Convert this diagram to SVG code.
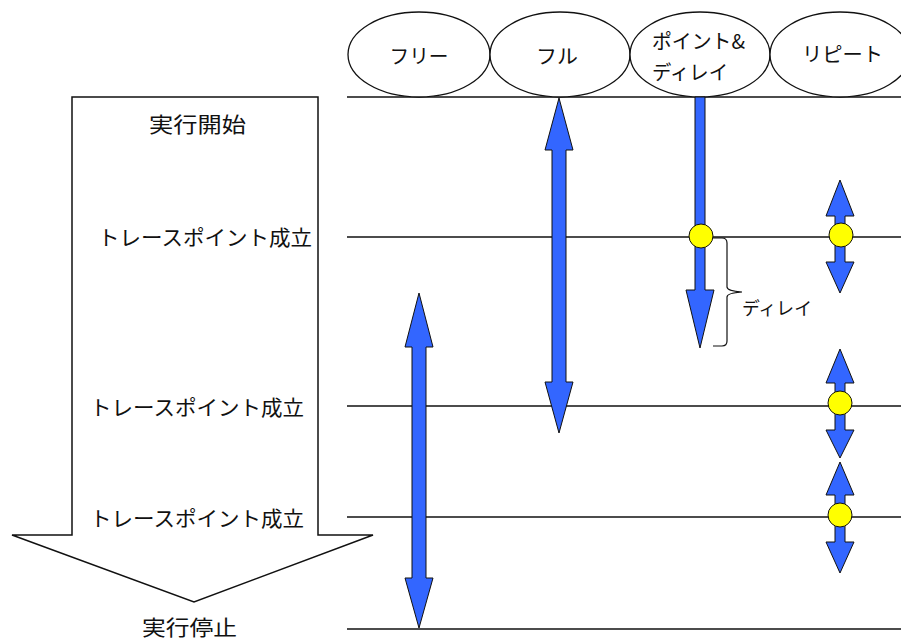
<svg xmlns="http://www.w3.org/2000/svg" width="901" height="639" viewBox="0 0 901 639">
<style>
  text { font-family: "Noto Sans CJK JP", "Noto Sans", sans-serif; fill: #111; dominant-baseline: central; }
  .lbl { font-size: 21px; }
  .mode { font-size: 20px; }
  .small { font-size: 18px; }
  .ell { fill: #fff; stroke: #111; stroke-width: 1.3; }
  .hline { stroke: #111; stroke-width: 1.5; fill: none; }
  .blue { fill: #3366FF; stroke: #111; stroke-width: 1; stroke-linejoin: miter; }
  .pt { fill: #FFFF00; stroke: #111; stroke-width: 1; }
  .brace { fill: none; stroke: #111; stroke-width: 1.2; }
</style>
<rect width="901" height="639" fill="#fff"/>

<g id="flow-arrow">
  <polygon points="72,97 318,97 318,535 373,535 194,602 12,535 72,535" fill="#fff" stroke="#111" stroke-width="1.5"/>
</g>

<g id="connectors">
  <line class="hline" x1="347" y1="97" x2="901" y2="97"/>
  <line class="hline" x1="347" y1="237" x2="901" y2="237"/>
  <line class="hline" x1="347" y1="406" x2="901" y2="406"/>
  <line class="hline" x1="347" y1="517" x2="901" y2="517"/>
  <line class="hline" x1="347" y1="629" x2="901" y2="629"/>
</g>

<g id="mode-free">
  <ellipse class="ell" cx="419" cy="54.5" rx="71" ry="42.5"/>
  <text class="mode" x="419" y="55" text-anchor="middle" textLength="59" lengthAdjust="spacingAndGlyphs">フリー</text>
</g>
<g id="mode-full">
  <ellipse class="ell" cx="560" cy="54.5" rx="70" ry="42.5"/>
  <text class="mode" x="557" y="55" text-anchor="middle" textLength="42" lengthAdjust="spacingAndGlyphs">フル</text>
</g>
<g id="mode-point-delay">
  <ellipse class="ell" cx="700" cy="54.5" rx="70" ry="42.5"/>
  <text class="mode" x="652" y="40" textLength="93" lengthAdjust="spacingAndGlyphs">ポイント&amp;</text>
  <text class="mode" x="652" y="71" textLength="76" lengthAdjust="spacingAndGlyphs">ディレイ</text>
</g>
<g id="mode-repeat">
  <ellipse class="ell" cx="840" cy="54.5" rx="70" ry="42.5"/>
  <text class="mode" x="802" y="53" textLength="81" lengthAdjust="spacingAndGlyphs">リピート</text>
</g>

<g id="label-start">
  <text class="lbl" x="149" y="123" textLength="97" lengthAdjust="spacingAndGlyphs">実行開始</text>
</g>
<g id="label-tp1">
  <text class="lbl" x="98" y="236" textLength="214" lengthAdjust="spacingAndGlyphs">トレースポイント成立</text>
</g>
<g id="label-tp2">
  <text class="lbl" x="90" y="406" textLength="214" lengthAdjust="spacingAndGlyphs">トレースポイント成立</text>
</g>
<g id="label-tp3">
  <text class="lbl" x="90" y="517" textLength="214" lengthAdjust="spacingAndGlyphs">トレースポイント成立</text>
</g>
<g id="label-stop">
  <text class="lbl" x="142" y="626" textLength="95" lengthAdjust="spacingAndGlyphs">実行停止</text>
</g>

<g id="arrow-free">
  <polygon class="blue" points="419,293 433,347 426,347 426,578 433,578 419,628 405,578 412,578 412,347 405,347"/>
</g>
<g id="arrow-full">
  <polygon class="blue" points="559,98 573,150 566,150 566,382 573,382 559,433 545,382 552,382 552,150 545,150"/>
</g>
<g id="arrow-point-delay">
  <polygon class="blue" points="695,97 705,97 705,290 714,290 700,348 686,290 695,290"/>
  <circle class="pt" cx="701" cy="236" r="12"/>
  <path class="brace" d="M713,238 L722,238 Q727,238 727,243 L727,287 Q727,291 742,292 Q727,293 727,297 L727,341 Q727,346 722,346 L713,346"/>
  <text class="small" x="742" y="307" textLength="70" lengthAdjust="spacingAndGlyphs">ディレイ</text>
</g>
<g id="arrow-repeat-1">
  <polygon class="blue" points="840,180 854,216 845,216 845,262 854,262 840,293 826,262 835,262 835,216 826,216"/>
  <circle class="pt" cx="841" cy="235" r="12"/>
</g>
<g id="arrow-repeat-2">
  <polygon class="blue" points="840,349 854,383 845,383 845,430 854,430 840,458 826,430 835,430 835,383 826,383"/>
  <circle class="pt" cx="840" cy="403" r="12"/>
</g>
<g id="arrow-repeat-3">
  <polygon class="blue" points="840,462 854,495 845,495 845,542 854,542 840,573 826,542 835,542 835,495 826,495"/>
  <circle class="pt" cx="840" cy="515" r="12"/>
</g>
</svg>
